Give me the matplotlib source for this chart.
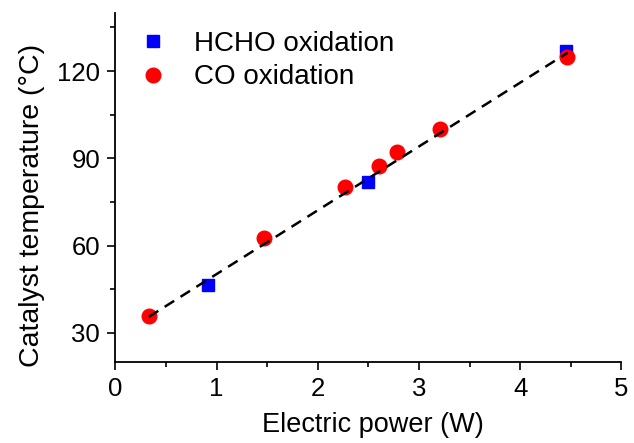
import matplotlib
matplotlib.use("Agg")
import matplotlib.pyplot as plt
from matplotlib.ticker import MultipleLocator

plt.rcParams['font.family'] = ['Liberation Sans', 'DejaVu Sans']

# Data
hcho_power = [0.92, 2.50, 4.45]
hcho_temp = [46.5, 82.0, 126.8]
co_power = [0.33, 1.47, 2.27, 2.61, 2.78, 3.21, 4.46]
co_temp = [35.8, 62.5, 80.0, 87.2, 92.2, 100.0, 124.8]
fit_power = [0.33, 4.47]
fit_temp = [35.5, 126.3]

x_ticks = [0, 1, 2, 3, 4, 5]
y_ticks = [30, 60, 90, 120]

fig = plt.figure(figsize=(6.34, 4.43), dpi=100)
ax = fig.add_axes([0.182, 0.183, 0.798, 0.788])

ax.plot(hcho_power, hcho_temp, ls='none', marker='s', ms=9, color='#0000ff',
        mec='#0000ff', label='HCHO oxidation', zorder=3)
ax.plot(co_power, co_temp, ls='none', marker='o', ms=10.5, color='#ff0000',
        mec='#ff0000', label='CO oxidation', zorder=3)
ax.plot(fit_power, fit_temp, color='black', lw=1.8, dashes=(4.5, 3), zorder=4)

ax.set_xlim(0, 5)
ax.set_ylim(20, 140)
ax.set_xticks(x_ticks)
ax.set_yticks(y_ticks)
ax.xaxis.set_minor_locator(MultipleLocator(0.5))
ax.yaxis.set_minor_locator(MultipleLocator(15))

for s in ['top', 'right']:
    ax.spines[s].set_visible(False)
for s in ['left', 'bottom']:
    ax.spines[s].set_linewidth(1.3)

ax.tick_params(which='major', length=6, width=1.2, labelsize=18.5, direction='out', pad=5)
ax.tick_params(which='minor', length=3.5, width=1.2, direction='out')

ax.set_xlabel('Electric power (W)', fontsize=19.5, labelpad=8)
ax.xaxis.label.set_x(0.508)
ax.set_ylabel('Catalyst temperature (°C)', fontsize=20.5, labelpad=9)
ax.yaxis.label.set_y(0.447)

leg = ax.legend(loc='upper left', bbox_to_anchor=(0.02, 0.98), frameon=False,
                fontsize=20, handlelength=1.2, handletextpad=0.85,
                labelspacing=0.27, borderaxespad=0.2, borderpad=0.2)

fig.savefig('out.png', dpi=100)
